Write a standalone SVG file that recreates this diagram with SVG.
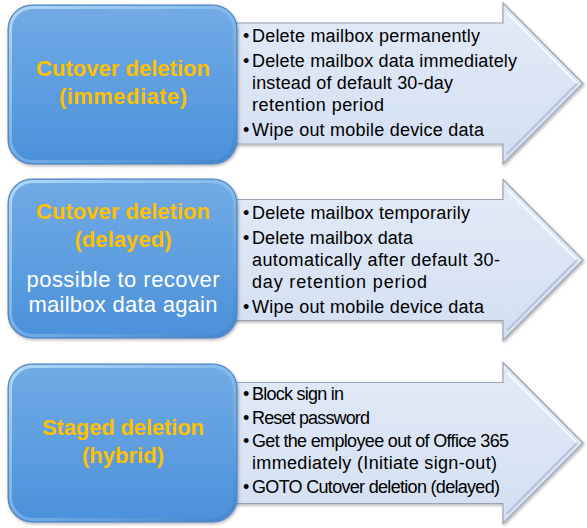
<svg xmlns="http://www.w3.org/2000/svg" width="587" height="528" viewBox="0 0 587 528">
<style>
.title{font-family:"Liberation Sans",Arial,sans-serif;font-weight:bold;font-size:22px;fill:#FFC000;text-anchor:middle}
.sub{font-family:"Liberation Sans",Arial,sans-serif;font-size:22px;fill:#FFFFFF;text-anchor:middle}
.bl{font-family:"Liberation Sans",Arial,sans-serif;font-size:18px;fill:#000000}
.box{fill:url(#boxg);stroke:#4A7FBE;stroke-width:1}
.boxhl{fill:none;stroke:url(#boxhl);stroke-width:3}
.arr{fill:url(#arrg);stroke:#9AA4B2;stroke-width:1.2}
.arrhl{fill:none;stroke:#FFFFFF;stroke-opacity:0.8;stroke-width:2}
.arrsh{fill:none;stroke:#B4C2D6;stroke-width:2}
</style>
<defs>
<linearGradient id="boxg" x1="0" y1="0" x2="0" y2="1">
<stop offset="0" stop-color="#72ABE5"/>
<stop offset="1" stop-color="#4B91DA"/>
</linearGradient>
<linearGradient id="boxhl" x1="0" y1="0" x2="1" y2="1">
<stop offset="0" stop-color="#B5DDFA" stop-opacity="0.9"/>
<stop offset="0.5" stop-color="#9CCBF3" stop-opacity="0.5"/>
<stop offset="1" stop-color="#3F7CC0" stop-opacity="0.6"/>
</linearGradient>
<linearGradient id="arrg" x1="0" y1="0" x2="0" y2="1">
<stop offset="0" stop-color="#E2EAF7"/>
<stop offset="1" stop-color="#D3DFF2"/>
</linearGradient>
<filter id="sh" x="-10%" y="-10%" width="120%" height="120%">
<feDropShadow dx="1" dy="1.5" stdDeviation="1.5" flood-color="#000000" flood-opacity="0.3"/>
</filter>
<g id="arrowShape">
<path class="arr" d="M232,23 H503 V3 L583,83.5 L503,164 V144 H232 Z"/>
<polyline class="arrhl" points="507,13 577,83.5"/>
<polyline class="arrsh" points="577,83.5 507,154"/>
</g>
</defs>

<g id="arrow1">
<use href="#arrowShape" filter="url(#sh)"/>
<text class="bl" x="243" y="42">•</text><text class="bl" x="252" y="42" textLength="228">Delete mailbox permanently</text>
<text class="bl" x="243" y="67">•</text><text class="bl" x="252" y="67" textLength="265">Delete mailbox data immediately</text>
<text class="bl" x="252" y="89" textLength="201">instead of default 30-day</text>
<text class="bl" x="252" y="111" textLength="132">retention period</text>
<text class="bl" x="243" y="136">•</text><text class="bl" x="252" y="136" textLength="232">Wipe out mobile device data</text>
</g>

<g id="arrow2">
<use href="#arrowShape" transform="translate(0,176.5)" filter="url(#sh)"/>
<text class="bl" x="243" y="219">•</text><text class="bl" x="252" y="219" textLength="218">Delete mailbox temporarily</text>
<text class="bl" x="243" y="244">•</text><text class="bl" x="252" y="244" textLength="161">Delete mailbox data</text>
<text class="bl" x="252" y="266" textLength="248">automatically after default 30-</text>
<text class="bl" x="252" y="288" textLength="175">day retention period</text>
<text class="bl" x="243" y="313">•</text><text class="bl" x="252" y="313" textLength="232">Wipe out mobile device data</text>
</g>

<g id="arrow3">
<use href="#arrowShape" transform="translate(0,359.5)" filter="url(#sh)"/>
<text class="bl" x="243" y="400">•</text><text class="bl" x="252" y="400" textLength="92">Block sign in</text>
<text class="bl" x="243" y="424">•</text><text class="bl" x="252" y="424" textLength="118">Reset password</text>
<text class="bl" x="243" y="447">•</text><text class="bl" x="252" y="447" textLength="257">Get the employee out of Office 365</text>
<text class="bl" x="252" y="469" textLength="245">immediately (Initiate sign-out)</text>
<text class="bl" x="243" y="493">•</text><text class="bl" x="252" y="493" textLength="248">GOTO Cutover deletion (delayed)</text>
</g>

<g id="node1">
<rect class="box" x="8" y="5" width="229" height="159" rx="24" filter="url(#sh)"/>
<rect class="boxhl" x="10.5" y="7.5" width="224" height="154" rx="22"/>
<text class="title" x="123" y="76" textLength="174">Cutover deletion</text>
<text class="title" x="123" y="104" textLength="128">(immediate)</text>
</g>

<g id="node2">
<rect class="box" x="8" y="179" width="229" height="159" rx="24" filter="url(#sh)"/>
<rect class="boxhl" x="10.5" y="181.5" width="224" height="154" rx="22"/>
<text class="title" x="123" y="219" textLength="174">Cutover deletion</text>
<text class="title" x="123" y="247" textLength="97">(delayed)</text>
<text class="sub" x="123" y="287" textLength="193">possible to recover</text>
<text class="sub" x="123" y="312" textLength="189">mailbox data again</text>
</g>

<g id="node3">
<rect class="box" x="8" y="364" width="229" height="158" rx="24" filter="url(#sh)"/>
<rect class="boxhl" x="10.5" y="366.5" width="224" height="153" rx="22"/>
<text class="title" x="123" y="435" textLength="162">Staged deletion</text>
<text class="title" x="123" y="463" textLength="82">(hybrid)</text>
</g>

<g id="connectors"/>
</svg>
